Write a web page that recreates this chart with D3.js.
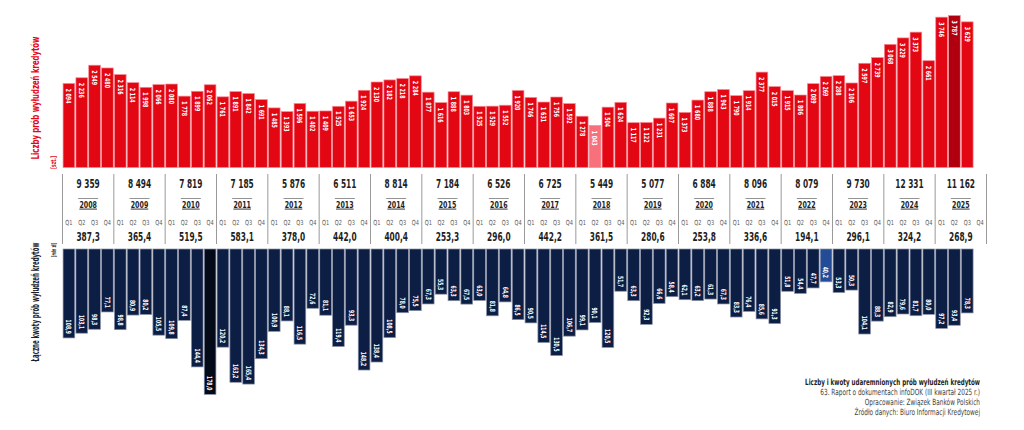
<!DOCTYPE html>
<html><head><meta charset="utf-8">
<script src="https://cdn.jsdelivr.net/npm/d3@7/dist/d3.min.js"></script>
<style>
html,body{margin:0;padding:0;background:#fff;}
svg{display:block;font-family:"DejaVu Sans Condensed","DejaVu Sans",sans-serif;}
</style></head>
<body>
<svg id="chart" width="1024" height="430"></svg>
<script>
const years = [2008,2009,2010,2011,2012,2013,2014,2015,2016,2017,2018,2019,2020,2021,2022,2023,2024,2025];
const quarterLabels = ["Q1","Q2","Q3","Q4"];
const yearCounts = [9359,8494,7819,7185,5876,6511,8814,7184,6526,6725,5449,5077,6884,8096,8079,9730,12331,11162];
const yearAmounts = [387.3,365.4,519.5,583.1,378.0,442.0,400.4,253.3,296.0,442.2,361.5,280.6,253.8,336.6,194.1,296.1,324.2,268.9];
const counts = [
  2094,2236,2549,2480, 2316,2114,1998,2066, 2080,1778,1899,2062, 1761,1891,1842,1691,
  1485,1393,1596,1402, 1409,1525,1653,1924, 2130,2182,2218,2284, 1877,1616,1888,1803,
  1525,1529,1552,1920, 1746,1631,1756,1592, 1278,1043,1504,1624, 1117,1122,1231,1607,
  1373,1680,1888,1943, 1790,1914,2377,2015, 1915,1806,2089,2269, 2288,2106,2597,2739,
  3068,3229,3373,2661, 3746,3787,3629
];
const amounts = [
  108.9,103.1,98.3,77.1, 98.8,80.9,80.2,105.5, 109.8,87.4,144.4,178.0, 120.2,163.2,165.4,134.3,
  100.9,88.1,116.5,72.6, 81.1,119.4,93.3,148.2, 138.4,108.5,78.0,75.5, 67.3,55.3,63.3,67.5,
  63.0,81.8,64.8,86.5, 90.5,114.5,130.5,106.7, 99.1,90.1,120.5,51.7, 63.3,92.3,66.6,58.4,
  62.1,63.2,61.3,67.3, 83.3,76.4,85.6,91.3, 51.8,54.4,47.7,40.2, 53.3,50.3,104.1,88.3,
  82.9,79.6,81.7,80.0, 97.2,93.4,78.3
];
const highlightCounts = {41:"#f7707c", 69:"#b0000f"};
const highlightAmounts = {11:"#050a18", 59:"#244b96"};
const notes = [
  "Liczby i kwoty udaremnionych prób wyłudzeń kredytów",
  "63. Raport o dokumentach infoDOK (III kwartał 2025 r.)",
  "Opracowanie: Związek Banków Polskich",
  "Źródło danych: Biuro Informacji Kredytowej"
];

const svg = d3.select("#chart");
const nSlots = years.length*4;
const slots = d3.range(nSlots);
const x = d3.scaleBand().domain(slots).range([62.5, 986.5]).paddingInner(0.09).paddingOuter(0.045);
const step = x.step();
const x0 = 62.5;

const yTop = d3.scaleLinear().domain([0, 3800]).range([167.5, 15]);
const yBot = d3.scaleLinear().domain([0, 180]).range([249, 396]);

const fmtCount = v => d3.format(",")(v).replace(/,/g, " ");
const fmtAmt = v => v.toFixed(1).replace(".", ",");

const RED = "#e30613", NAVY = "#0d1e45";

function fit(sel, base, target) {
  const len = sel.node().getComputedTextLength();
  sel.attr("transform", `${base} scale(${target/len},1)`);
}

// red bars
const gTop = svg.append("g");
gTop.selectAll("rect").data(counts).join("rect")
  .attr("x", (d,i)=>x(i)).attr("width", x.bandwidth())
  .attr("y", d=>yTop(d)).attr("height", d=>yTop(0)-yTop(d))
  .attr("fill", (d,i)=>highlightCounts[i]||RED)
  .attr("stroke", "#f38a93").attr("stroke-width", 0.7);
gTop.selectAll("text").data(counts).join("text")
  .attr("transform", (d,i)=>`translate(${x(i)+x.bandwidth()/2},${yTop(d)+5}) rotate(90) scale(0.74,1)`)
  .attr("dy", "0.36em").attr("text-anchor", "start")
  .attr("fill", "#fff").attr("font-size", 7.2).attr("font-weight", "bold")
  .text(d=>fmtCount(d));

// navy bars
const gBot = svg.append("g");
gBot.selectAll("rect").data(amounts).join("rect")
  .attr("x", (d,i)=>x(i)).attr("width", x.bandwidth())
  .attr("y", yBot(0)).attr("height", d=>yBot(d)-yBot(0))
  .attr("fill", (d,i)=>highlightAmounts[i]||NAVY)
  .attr("stroke", "#8a92a6").attr("stroke-width", 0.7);
gBot.selectAll("text").data(amounts).join("text")
  .attr("transform", (d,i)=>`translate(${x(i)+x.bandwidth()/2},${yBot(d)-4}) rotate(90) scale(0.7,1)`)
  .attr("dy", "0.36em").attr("text-anchor", "end")
  .attr("fill", "#fff").attr("font-size", 7.2).attr("font-weight", "bold")
  .text(d=>fmtAmt(d));

// middle band
const gMid = svg.append("g");
const yearStart = i => x0 + i*4*step;
const yearCenter = i => x0 + (i*4+2)*step;
gMid.selectAll("line.div").data(d3.range(years.length+1)).join("line")
  .attr("class","div")
  .attr("x1", i=>yearStart(i)).attr("x2", i=>yearStart(i))
  .attr("y1", 174).attr("y2", 244)
  .attr("stroke", "#9a9a9a").attr("stroke-width", 1);
gMid.selectAll("text.tot").data(yearCounts).join("text")
  .attr("class","tot")
  .attr("transform", (d,i)=>`translate(${yearCenter(i)},188) scale(0.66,1)`)
  .attr("text-anchor","middle").attr("font-size", 12.5).attr("font-weight","bold").attr("fill","#1e1e1e")
  .text(d=>fmtCount(d));
gMid.selectAll("line.over").data(years).join("line")
  .attr("class","over")
  .attr("x1", (d,i)=>yearCenter(i)-10).attr("x2", (d,i)=>yearCenter(i)+10)
  .attr("y1", 198.5).attr("y2", 198.5)
  .attr("stroke", "#777").attr("stroke-width", 0.8);
gMid.selectAll("text.yr").data(years).join("text")
  .attr("class","yr")
  .attr("transform", (d,i)=>`translate(${yearCenter(i)},207.5) scale(0.78,1)`)
  .attr("text-anchor","middle").attr("font-size", 9).attr("font-weight","bold").attr("fill","#1e1e1e")
  .attr("text-decoration","underline")
  .text(d=>d);
gMid.selectAll("text.q").data(slots).join("text")
  .attr("class","q")
  .attr("transform", i=>`translate(${x(i)+x.bandwidth()/2},225) scale(0.8,1)`)
  .attr("text-anchor","middle").attr("font-size", 7).attr("fill","#555")
  .text(i=>quarterLabels[i%4]);
gMid.selectAll("text.amt").data(yearAmounts).join("text")
  .attr("class","amt")
  .attr("transform", (d,i)=>`translate(${yearCenter(i)},241) scale(0.66,1)`)
  .attr("text-anchor","middle").attr("font-size", 12.5).attr("font-weight","bold").attr("fill","#1e1e1e")
  .text(d=>fmtAmt(d));

// axis titles
const t1 = svg.append("text")
  .attr("text-anchor","middle").attr("font-size", 11).attr("font-weight","bold").attr("fill", RED)
  .text("Liczby prób wyłudzeń kredytów");
fit(t1, "translate(39,98) rotate(-90)", 123);
const t1u = svg.append("text")
  .attr("text-anchor","start").attr("font-size", 7.5).attr("font-weight","bold").attr("fill", RED)
  .text("[szt.]");
fit(t1u, "translate(55.5,169) rotate(-90)", 13);
const t2 = svg.append("text")
  .attr("text-anchor","middle").attr("font-size", 11).attr("font-weight","bold").attr("fill", "#1c1c2a")
  .text("Łączne kwoty prób wyłudzeń kredytów");
fit(t2, "translate(39,302) rotate(-90)", 119);
const t2u = svg.append("text")
  .attr("text-anchor","end").attr("font-size", 6.5).attr("font-weight","bold").attr("fill", "#1c1c2a")
  .text("[mln zł]");
fit(t2u, "translate(55.5,243) rotate(-90)", 14);

// footnote
notes.forEach((d,i)=>{
  const t = svg.append("text")
    .attr("text-anchor","end").attr("font-size", 8.5)
    .attr("font-weight", i===0?"bold":"normal").attr("fill", i===0?"#1e1e1e":"#444")
    .text(d);
  if (i===0) fit(t, "translate(980,385)", 175);
  else t.attr("transform", `translate(980,${385+i*10}) scale(0.76,1)`);
});
</script>
</body></html>
